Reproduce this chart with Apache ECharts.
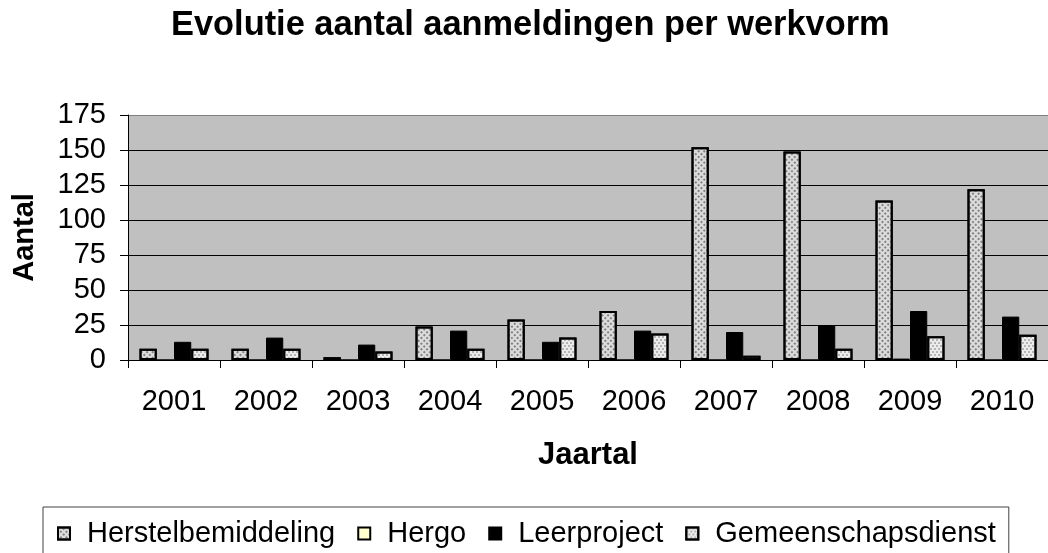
<!DOCTYPE html>
<html>
<head>
<meta charset="utf-8">
<script src="https://cdn.jsdelivr.net/npm/echarts@6/dist/echarts.min.js"></script>
<style>
  html, body { margin: 0; padding: 0; background: #fff; }
  #main { width: 1048px; height: 553px; }
</style>
</head>
<body>
<div id="main"></div>
<script>
// jaartallen
var years = ['2001', '2002', '2003', '2004', '2005', '2006', '2007', '2008', '2009', '2010'];
// aanmeldingen per werkvorm
var herstelbemiddeling = [8, 8, 2, 24, 29, 35, 152, 149, 114, 122];
var hergo = [0, 0, 0, 0, 0, 0, 0, 0, 1, 0];
var leerproject = [13, 16, 11, 21, 13, 21, 20, 25, 35, 31];
var gemeenschapsdienst = [8, 8, 6, 8, 16, 19, 3, 8, 17, 18];

var font = 'Liberation Sans, Arial, sans-serif';

var chart = echarts.init(document.getElementById('main'));

var option = {
  backgroundColor: '#ffffff',
  animation: false,
  title: {
    text: 'Evolutie aantal aanmeldingen per werkvorm',
    left: 171,
    top: 9,
    padding: 0,
    textStyle: { fontFamily: font, fontSize: 34.4, fontWeight: 'bold', color: '#000' }
  },
  legend: {
    left: 43,
    top: 507,
    padding: [12, 13, 20, 14],
    borderColor: '#404040',
    borderWidth: 1,
    itemWidth: 12,
    itemHeight: 12,
    itemGap: 22,
    icon: 'rect',
    textStyle: { fontFamily: font, fontSize: 29, color: '#000', padding: [0, 0, 0, 12] },
    data: ['Herstelbemiddeling', 'Hergo', 'Leerproject', 'Gemeenschapsdienst']
  },
  grid: {
    left: 128,
    top: 115,
    bottom: 193,
    width: 930,
    show: true,
    backgroundColor: '#c0c0c0',
    borderWidth: 0
  },
  xAxis: {
    type: 'category',
    data: years,
    name: 'Jaartal',
    nameLocation: 'middle',
    nameGap: 80,
    nameTextStyle: { fontFamily: font, fontSize: 31, fontWeight: 'bold', color: '#000' },
    axisLine: { lineStyle: { color: '#000', width: 1 } },
    axisTick: { show: true, length: 8, lineStyle: { color: '#000' } },
    axisLabel: { fontFamily: font, fontSize: 29, color: '#000', margin: 27 }
  },
  yAxis: {
    type: 'value',
    min: 0,
    max: 175,
    interval: 25,
    name: 'Aantal',
    nameLocation: 'middle',
    nameGap: 89,
    nameTextStyle: { fontFamily: font, fontSize: 29, fontWeight: 'bold', color: '#000' },
    axisLine: { show: true, lineStyle: { color: '#000', width: 1 } },
    axisTick: { show: true, length: 8, lineStyle: { color: '#000' } },
    axisLabel: { fontFamily: font, fontSize: 29, color: '#000', margin: 22 },
    splitLine: {
      show: true,
      lineStyle: { color: ['#000', '#000', '#000', '#000', '#000', '#000', '#000', '#808080'], width: 1 }
    }
  },
  series: [
    {
      name: 'Herstelbemiddeling',
      type: 'bar',
      data: herstelbemiddeling,
      barGap: '0%',
      barCategoryGap: '25%',
      itemStyle: {
        color: '#dcdcdc',
        borderColor: '#000',
        borderWidth: 2,
        decal: {
          symbol: 'diamond',
          symbolSize: 1,
          color: '#2a2a2a',
          dashArrayX: [[2, 2]],
          dashArrayY: [2, 2],
          rotation: Math.PI / 4
        }
      }
    },
    {
      name: 'Hergo',
      type: 'bar',
      data: hergo,
      itemStyle: { color: '#ffffcc', borderColor: '#000', borderWidth: 1 }
    },
    {
      name: 'Leerproject',
      type: 'bar',
      data: leerproject,
      itemStyle: { color: '#000000', borderColor: '#000', borderWidth: 1 }
    },
    {
      name: 'Gemeenschapsdienst',
      type: 'bar',
      data: gemeenschapsdienst,
      itemStyle: {
        color: '#ececec',
        borderColor: '#000',
        borderWidth: 2,
        decal: {
          symbol: 'circle',
          symbolSize: 0.8,
          color: '#707070',
          dashArrayX: [[2, 2], [0, 2, 2, 0]],
          dashArrayY: [2, 1]
        }
      }
    }
  ]
};

chart.setOption(option);
</script>
</body>
</html>
